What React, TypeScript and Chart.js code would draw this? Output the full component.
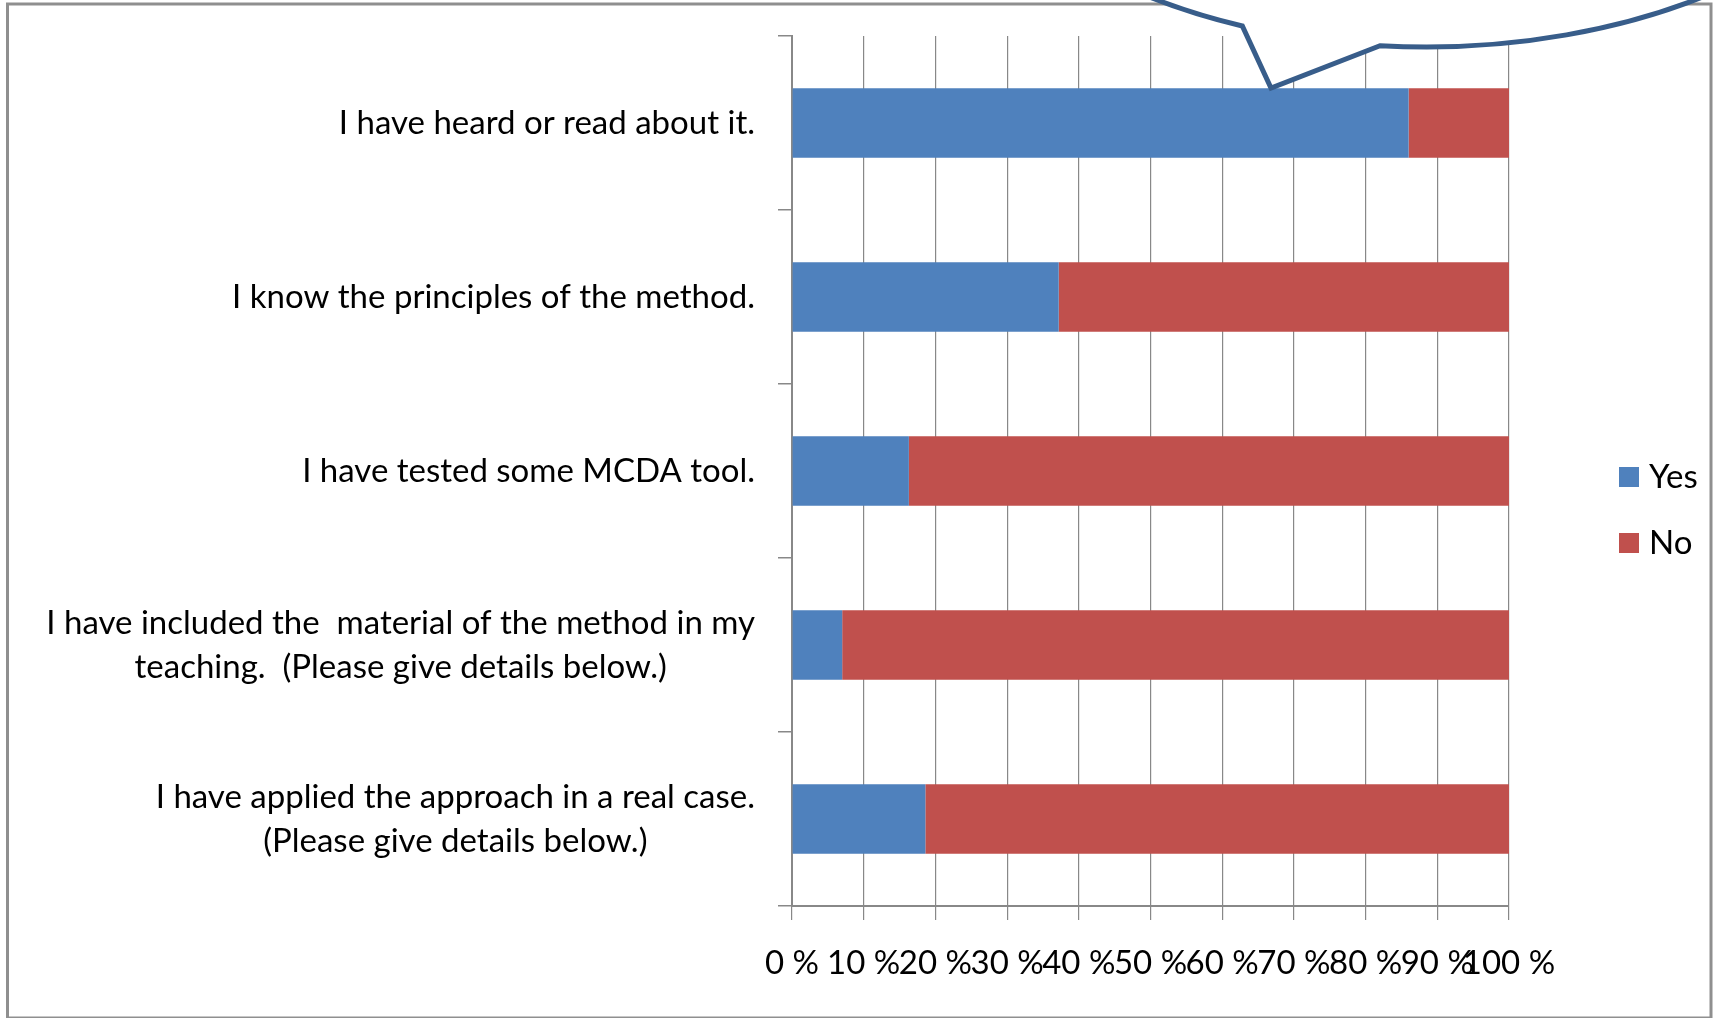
import React, { useEffect, useRef } from "react";
import { Chart, registerables } from "chart.js";

Chart.register(...registerables);

const categories: string[][] = [
  ["I have heard or read about it."],
  ["I know the principles of the method."],
  ["I have tested some MCDA tool."],
  ["I have included the  material of the method in my", "teaching.  (Please give details below.)"],
  ["I have applied the approach in a real case.", "(Please give details below.)"],
];
const yesValues = [86.0, 37.2, 16.3, 7.0, 18.6];
const noValues = [14.0, 62.8, 83.7, 93.0, 81.4];
const seriesNames = ["Yes", "No"];
const seriesColors = ["#4F81BD", "#C0504D"];
const xTickLabels = ["0 %", "10 %", "20 %", "30 %", "40 %", "50 %", "60 %", "70 %", "80 %", "90 %", "100 %"];

const FONT = "Lato, 'Open Sans', sans-serif";
const FONT_SIZE = 33;

const decorPlugin = {
  id: "decor",
  afterDraw(chart: any) {
    const ctx = chart.ctx as CanvasRenderingContext2D;
    const area = chart.chartArea;
    const yScale = chart.scales.y;
    ctx.save();
    // category labels: block right-aligned, lines centered within block
    ctx.font = `${FONT_SIZE}px ${FONT}`;
    ctx.fillStyle = "#000";
    ctx.textBaseline = "middle";
    ctx.textAlign = "center";
    const lineH = 44;
    const rightEdge = area.left - 37;
    categories.forEach((lines, i) => {
      const yc = yScale.getPixelForTick(i);
      const widest = Math.max(...lines.map((l) => ctx.measureText(l).width));
      const cx = rightEdge - widest / 2;
      const y0 = yc - ((lines.length - 1) * lineH) / 2;
      lines.forEach((l, j) => ctx.fillText(l, cx, y0 + j * lineH));
    });

    // legend
    const legX = 1619;
    const legYs = [477, 543];
    chart.data.datasets.forEach((ds: any, i: number) => {
      ctx.fillStyle = ds.backgroundColor;
      ctx.fillRect(legX, legYs[i] - 10, 20, 20);
      ctx.fillStyle = "#000";
      ctx.textAlign = "left";
      ctx.fillText(ds.label, legX + 30, legYs[i]);
    });

    // outer border
    ctx.strokeStyle = "#8f8f8f";
    ctx.lineWidth = 3;
    ctx.strokeRect(7.5, 4, 1703.5, 1014);

    // callout
    const cx = 1426, cy = -253, rx = 500, ry = 300;
    const t1 = Math.atan2((25 - cy) / ry, (1243 - cx) / rx);
    const t2 = Math.atan2((46 - cy) / ry, (1380 - cx) / rx);
    ctx.beginPath();
    ctx.ellipse(cx, cy, rx, ry, 0, t2, t1, true);
    ctx.lineTo(1271, 88);
    ctx.closePath();
    ctx.fillStyle = "#ffffff";
    ctx.fill();
    ctx.strokeStyle = "#385D8A";
    ctx.lineWidth = 5;
    ctx.lineJoin = "miter";
    ctx.stroke();
    ctx.restore();
  },
};

export default function App() {
  const ref = useRef<HTMLCanvasElement | null>(null);
  useEffect(() => {
    if (!ref.current) return;
    const chart = new Chart(ref.current, {
      type: "bar",
      data: {
        labels: categories.map((c) => c.join(" ")),
        datasets: [
          { label: seriesNames[0], data: yesValues, backgroundColor: seriesColors[0], categoryPercentage: 0.8, barPercentage: 0.5 },
          { label: seriesNames[1], data: noValues, backgroundColor: seriesColors[1], categoryPercentage: 0.8, barPercentage: 0.5 },
        ],
      },
      options: {
        indexAxis: "y",
        responsive: false,
        animation: false,
        events: [],
        layout: { padding: { left: 0, right: 204, top: 36, bottom: 0 } },
        plugins: { legend: { display: false }, tooltip: { enabled: false } },
        scales: {
          x: {
            stacked: true,
            min: 0,
            max: 100,
            afterFit: (s: any) => { s.height = 112; },
            ticks: {
              stepSize: 10,
              autoSkip: false,
              maxRotation: 0,
              minRotation: 0,
              padding: 24,
              color: "#000",
              font: { family: FONT, size: FONT_SIZE },
              callback: (_v: any, i: number) => xTickLabels[i],
            },
            grid: { color: "#888888", lineWidth: 1.2, tickLength: 14, drawTicks: true },
            border: { color: "#888888", width: 2 },
          },
          y: {
            stacked: true,
            afterFit: (s: any) => { s.width = 792; },
            ticks: { display: false },
            grid: { display: true, drawOnChartArea: false, drawTicks: true, tickLength: 14, offset: true, color: "#888888", lineWidth: 1.5 },
            border: { color: "#888888", width: 2 },
          },
        },
      },
      plugins: [decorPlugin],
    });
    return () => chart.destroy();
  }, []);
  return (
    <div style={{ position: "fixed", left: 0, top: 0, width: 1713, height: 1018, background: "#fff" }}>
      <canvas ref={ref} width={1713} height={1018} style={{ display: "block", width: 1713, height: 1018 }} />
    </div>
  );
}
